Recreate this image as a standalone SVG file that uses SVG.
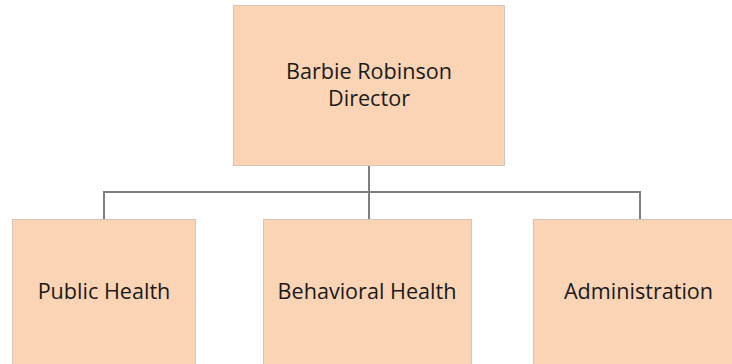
<svg xmlns="http://www.w3.org/2000/svg" width="732" height="364" viewBox="0 0 732 364">
  <style>
    .box { fill: #FAD4B4; stroke: #D9C4B3; stroke-width: 1; }
    .label { font-family: "Open Sans", "Liberation Sans", sans-serif; font-size: 21.6px; fill: #1a1a1a; text-anchor: middle; }
    .link { fill: none; stroke: #7F7F7F; stroke-width: 2; }
  </style>
  <rect width="732" height="364" fill="#ffffff"/>

  <!-- connectors -->
  <g id="connectors">
    <path class="link" d="M369 165 V192"/>
    <path class="link" d="M104 219 V192 H640 V219"/>
    <path class="link" d="M369 192 V219"/>
  </g>

  <g id="director">
    <rect class="box" x="233.5" y="5.5" width="271" height="160"/>
    <text class="label" x="369" y="79">Barbie Robinson</text>
    <text class="label" x="369" y="106">Director</text>
  </g>

  <g id="public-health">
    <rect class="box" x="12.5" y="219.5" width="183" height="150"/>
    <text class="label" x="104" y="299">Public Health</text>
  </g>

  <g id="behavioral-health">
    <rect class="box" x="263.5" y="219.5" width="208" height="150"/>
    <text class="label" x="367" y="299">Behavioral Health</text>
  </g>

  <g id="administration">
    <rect class="box" x="533.5" y="219.5" width="210" height="150"/>
    <text class="label" x="638.5" y="299">Administration</text>
  </g>
</svg>
